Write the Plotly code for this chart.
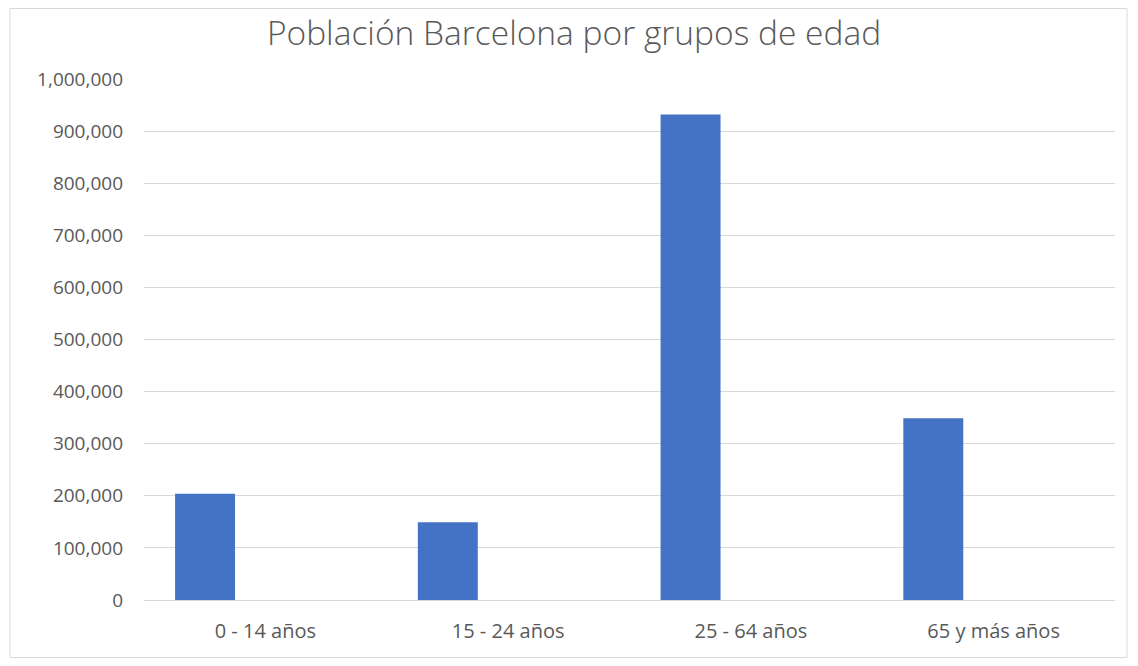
import plotly.graph_objects as go

categories = ["0 - 14 años", "15 - 24 años", "25 - 64 años", "65 y más años"]
poblacion = [204000, 149000, 932000, 349000]
y_ticks = [0, 100000, 200000, 300000, 400000, 500000, 600000, 700000, 800000, 900000, 1000000]

# page is rendered with an 8px body margin, so the figure is sized/offset accordingly
W, H = 1122, 650
ml, mr, mt, mb = 136, 15, 71, 58
pw = W - ml - mr
ph = H - mt - mb

fig = go.Figure()
fig.add_trace(go.Bar(
    x=categories, y=poblacion,
    marker=dict(color="#4472C4", line=dict(width=0)),
    width=0.247, offset=-0.372,
    hoverinfo="x+y",
))

# outer chart border (Excel-like frame)
fig.add_shape(type="rect", xref="paper", yref="paper",
              x0=(2 - ml) / pw, x1=(1119 - ml) / pw,
              y0=(H - mb - 649.5) / ph, y1=(H - mb - 0.5) / ph,
              line=dict(color="#d9d9d9", width=1), fillcolor="rgba(0,0,0,0)", layer="below")

fig.update_layout(
    width=W, height=H,
    margin=dict(l=ml, r=mr, t=mt, b=mb, pad=0),
    paper_bgcolor="white", plot_bgcolor="white",
    showlegend=False,
    title=dict(text="Población Barcelona por grupos de edad", x=566 / W, xanchor="center",
               y=1 - 25 / H, yanchor="middle",
               font=dict(family="Open Sans", size=33.5, color="#595959", weight=300)),
    font=dict(family="Open Sans", color="#595959"),
)
fig.update_xaxes(showgrid=False, showline=False, ticks="",
                 tickfont=dict(size=20, color="#595959"), ticklabelstandoff=17)
fig.update_yaxes(range=[0, 1000000], tickvals=y_ticks, tickformat=",",
                 showgrid=True, gridcolor="#d9d9d9", gridwidth=1,
                 zeroline=True, zerolinecolor="#d9d9d9", zerolinewidth=1,
                 showline=False, ticks="", ticklabelstandoff=20,
                 tickfont=dict(size=19, color="#595959"))

fig.write_html("out.html")
